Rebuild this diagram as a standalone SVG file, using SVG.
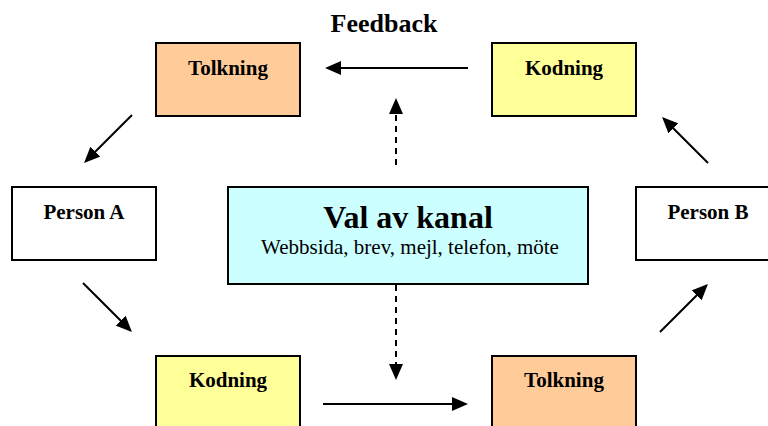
<svg xmlns="http://www.w3.org/2000/svg" width="768" height="426" viewBox="0 0 768 426">
  <defs>
    <marker id="ah" viewBox="0 0 16 14" refX="8" refY="7" markerWidth="16" markerHeight="14" markerUnits="userSpaceOnUse" orient="auto">
      <path d="M0,0 L16,7 L0,14 z" fill="#000"/>
    </marker>
    <style>
      .box { stroke: #000; stroke-width: 2; }
      .tolk { fill: #FFCC99; }
      .kod { fill: #FFFF99; }
      .pers { fill: #FFFFFF; }
      .kanal { fill: #CCFFFF; }
      .lbl { font-family: "Liberation Serif", "Times New Roman", serif; font-weight: bold; font-size: 21px; text-anchor: middle; fill: #000; }
      .title { font-family: "Liberation Serif", "Times New Roman", serif; font-weight: bold; font-size: 32px; text-anchor: middle; fill: #000; }
      .sub { font-family: "Liberation Serif", "Times New Roman", serif; font-size: 21px; text-anchor: middle; fill: #000; }
      .fb { font-family: "Liberation Serif", "Times New Roman", serif; font-weight: bold; font-size: 26px; text-anchor: middle; fill: #000; }
      .conn { stroke: #000; stroke-width: 2; fill: none; marker-end: url(#ah); }
      .dash { stroke-dasharray: 6 5; }
    </style>
  </defs>
  <rect width="768" height="426" fill="#fff"/>

  <text class="fb" x="384" y="32">Feedback</text>

  <g id="tolkning-top">
    <rect class="box tolk" x="156" y="43" width="144" height="73"/>
    <text class="lbl" x="228" y="75">Tolkning</text>
  </g>
  <g id="kodning-top">
    <rect class="box kod" x="492" y="43" width="144" height="73"/>
    <text class="lbl" x="564" y="75">Kodning</text>
  </g>
  <g id="person-a">
    <rect class="box pers" x="12" y="187" width="144" height="73"/>
    <text class="lbl" x="84" y="219">Person A</text>
  </g>
  <g id="person-b">
    <rect class="box pers" x="636" y="187" width="144" height="73"/>
    <text class="lbl" x="708" y="219">Person B</text>
  </g>
  <g id="val-av-kanal">
    <rect class="box kanal" x="228" y="187" width="360" height="97"/>
    <text class="title" x="408" y="228">Val av kanal</text>
    <text class="sub" x="410" y="254">Webbsida, brev, mejl, telefon, möte</text>
  </g>
  <g id="kodning-bottom">
    <rect class="box kod" x="156" y="356" width="144" height="80"/>
    <text class="lbl" x="228" y="387">Kodning</text>
  </g>
  <g id="tolkning-bottom">
    <rect class="box tolk" x="492" y="356" width="144" height="80"/>
    <text class="lbl" x="564" y="387">Tolkning</text>
  </g>

  <g id="connectors">
    <line class="conn" x1="468" y1="68" x2="333" y2="68"/>
    <line class="conn dash" x1="396" y1="165" x2="396" y2="106"/>
    <line class="conn" x1="132" y1="115" x2="89.7" y2="157.3"/>
    <line class="conn" x1="83" y1="283" x2="126.3" y2="326.3"/>
    <line class="conn" x1="323" y1="404" x2="460" y2="404"/>
    <line class="conn dash" x1="396" y1="285" x2="396" y2="372"/>
    <line class="conn" x1="660" y1="332" x2="702.3" y2="289.7"/>
    <line class="conn" x1="708" y1="163" x2="667.7" y2="122.7"/>
  </g>
</svg>
